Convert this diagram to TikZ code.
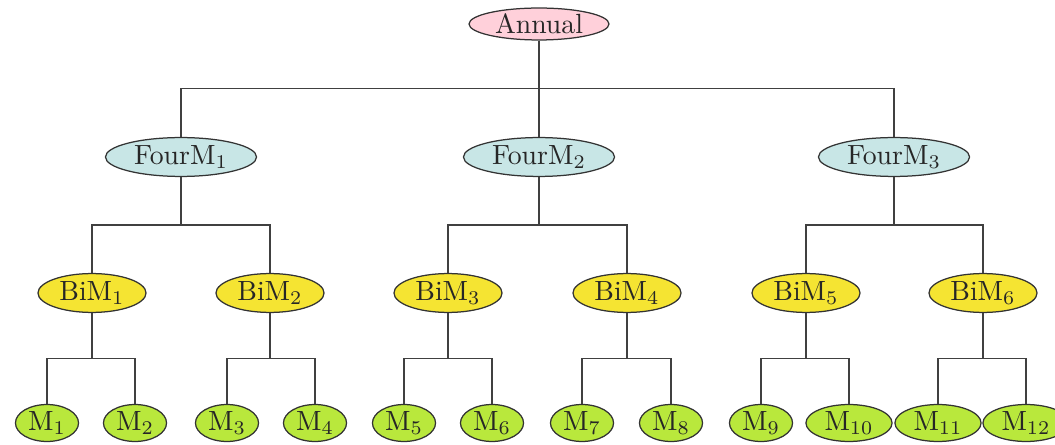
\documentclass[tikz,border=0pt]{standalone}
\usetikzlibrary{shapes.geometric,calc}
\definecolor{annualc}{RGB}{255,208,218}
\definecolor{fourc}{RGB}{200,230,230}
\definecolor{bic}{RGB}{245,228,50}
\definecolor{mc}{RGB}{185,232,60}
\begin{document}
\begin{tikzpicture}[x=0.36pt,y=-0.36pt,
  base/.style={ellipse,draw=black!80,line width=0.45pt,inner sep=0pt,text=black!85},
  annualnode/.style={base,fill=annualc,minimum width=50.4pt,minimum height=11.5pt},
  fournode/.style={base,fill=fourc,minimum width=54.4pt,minimum height=14pt},
  binode/.style={base,fill=bic,minimum width=38.9pt,minimum height=14pt},
  mnode/.style={base,fill=mc,minimum width=22.7pt,minimum height=13.3pt},
  mwide/.style={mnode,minimum width=31pt},
  conn/.style={draw=black!75,line width=0.45pt}]
\useasboundingbox (0,0) rectangle (1055,445);
\clip (0,0) rectangle (1055,445);
\node[annualnode] (A) at (539,24) {Annual};
\node[fournode] (F1) at (181,157) {FourM$_1$};
\node[fournode] (F2) at (539,157) {FourM$_2$};
\node[fournode] (F3) at (894,157) {FourM$_3$};
\node[binode] (B1) at (92,293) {BiM$_1$};
\node[binode] (B2) at (270,293) {BiM$_2$};
\node[binode] (B3) at (448,293) {BiM$_3$};
\node[binode] (B4) at (627,293) {BiM$_4$};
\node[binode] (B5) at (806,293) {BiM$_5$};
\node[binode] (B6) at (983,293) {BiM$_6$};
\node[mnode] (M1) at (47,423) {M$_1$};
\node[mnode] (M2) at (135,423) {M$_2$};
\node[mnode] (M3) at (227,423) {M$_3$};
\node[mnode] (M4) at (315,423) {M$_4$};
\node[mnode] (M5) at (404,423) {M$_5$};
\node[mnode] (M6) at (492,423) {M$_6$};
\node[mnode] (M7) at (582,423) {M$_7$};
\node[mnode] (M8) at (671,423) {M$_8$};
\node[mnode] (M9) at (761,423) {M$_9$};
\node[mwide] (M10) at (849,423) {M$_{10}$};
\node[mwide] (M11) at (938,423) {M$_{11}$};
\node[mwide] (M12) at (1026,423) {M$_{12}$};
\foreach \p/\c in {A/F1,A/F2,A/F3,F1/B1,F1/B2,F2/B3,F2/B4,F3/B5,F3/B6,
  B1/M1,B1/M2,B2/M3,B2/M4,B3/M5,B3/M6,B4/M7,B4/M8,B5/M9,B5/M10,B6/M11,B6/M12}
  \draw[conn] (\p.south) |- ($(\p.south)!0.5!(\c.north)$) -| (\c.north);
\end{tikzpicture}
\end{document}
